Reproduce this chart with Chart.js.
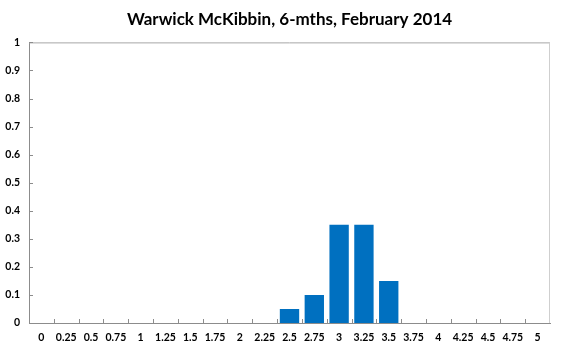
<!DOCTYPE html>
<html>
<head>
<meta charset="utf-8">
<script src="https://cdn.jsdelivr.net/npm/chart.js@4"></script>
<style>
  html, body { margin: 0; padding: 0; background: #fff; }
  #wrap { width: 561px; height: 349px; }
</style>
</head>
<body>
<div id="wrap"><canvas id="chart" width="561" height="349"></canvas></div>
<script>
const rates = ['0', '0.25', '0.5', '0.75', '1', '1.25', '1.5', '1.75', '2', '2.25', '2.5',
  '2.75', '3', '3.25', '3.5', '3.75', '4', '4.25', '4.5', '4.75', '5'];
const probs = [0, 0, 0, 0, 0, 0, 0, 0, 0, 0, 0.05, 0.1, 0.35, 0.35, 0.15, 0, 0, 0, 0, 0, 0];
const yTicks = [0, 0.1, 0.2, 0.3, 0.4, 0.5, 0.6, 0.7, 0.8, 0.9, 1];

// Excel style frame + inside tick marks
const frame = {
  id: 'frame',
  afterDraw(chart) {
    const ctx = chart.ctx;
    const a = chart.chartArea;
    const x = chart.scales.x, y = chart.scales.y;
    ctx.save();
    ctx.lineWidth = 1;
    ctx.strokeStyle = '#a6a6a6';
    ctx.beginPath();
    ctx.moveTo(a.left, a.top + 0.5);
    ctx.lineTo(a.right, a.top + 0.5);
    ctx.stroke();
    ctx.strokeStyle = '#cfcfcf';
    ctx.beginPath();
    ctx.moveTo(a.right - 0.5, a.top);
    ctx.lineTo(a.right - 0.5, a.bottom);
    ctx.stroke();
    ctx.strokeStyle = '#8c8c8c';
    ctx.beginPath();
    for (let i = 1; i < rates.length; i++) {
      const px = Math.round((x.getPixelForValue(i - 1) + x.getPixelForValue(i)) / 2) + 0.5;
      ctx.moveTo(px, a.bottom);
      ctx.lineTo(px, a.bottom - 4);
    }
    yTicks.forEach(v => {
      const py = Math.round(y.getPixelForValue(v)) + 0.5;
      ctx.moveTo(a.left, py);
      ctx.lineTo(a.left + 4, py);
    });
    ctx.stroke();
    ctx.restore();
  }
};

new Chart(document.getElementById('chart'), {
  type: 'bar',
  data: {
    labels: rates,
    datasets: [{
      data: probs,
      backgroundColor: '#0070c0',
      categoryPercentage: 1,
      barPercentage: 0.78
    }]
  },
  options: {
    responsive: false,
    animation: false,
    layout: { padding: { left: 0, right: 11, top: 0, bottom: 0 } },
    plugins: {
      legend: { display: false },
      tooltip: { enabled: false },
      title: {
        display: true,
        fullSize: false,
        text: 'Warwick McKibbin, 6-mths, February 2014',
        color: '#000',
        font: { family: 'Lato', size: 17, weight: 'bold', lineHeight: 1.2 },
        padding: { top: 9, bottom: 13 }
      }
    },
    scales: {
      x: {
        grid: { display: false, drawTicks: false },
        border: { color: '#8c8c8c' },
        ticks: {
          color: '#000',
          font: { family: 'Lato', size: 10.5, weight: 'bold' },
          padding: 8,
          maxRotation: 0,
          autoSkip: false
        },
        afterFit(s) { s.height = 26; }
      },
      y: {
        min: 0,
        max: 1,
        grid: { display: false, drawTicks: false },
        border: { color: '#8c8c8c' },
        afterBuildTicks(s) { s.ticks = yTicks.map(v => ({ value: v })); },
        ticks: {
          color: '#000',
          font: { family: 'Lato', size: 10.5, weight: 'bold' },
          padding: 9,
          callback: v => String(Math.round(v * 10) / 10)
        },
        afterFit(s) { s.width = 29; }
      }
    }
  },
  plugins: [frame]
});
</script>
</body>
</html>
